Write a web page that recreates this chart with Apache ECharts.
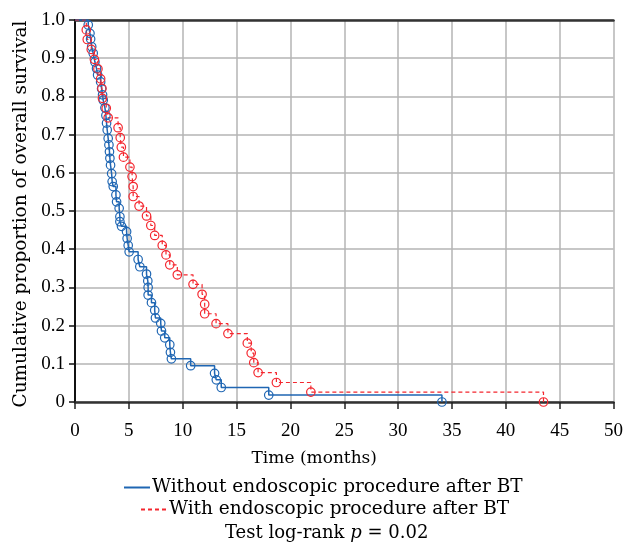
<!DOCTYPE html>
<html>
<head>
<meta charset="utf-8">
<script src="https://cdn.jsdelivr.net/npm/echarts@6/dist/echarts.min.js"></script>
<style>html,body{margin:0;padding:0;background:#fff}#c{width:626px;height:545px}</style>
</head>
<body>
<div id="c"></div>
<script>
var seriesNames = ['Without endoscopic procedure after BT', 'With endoscopic procedure after BT'];
var xTicks = [0, 5, 10, 15, 20, 25, 30, 35, 40, 45, 50];
var blueTimes = [0, 1.23, 1.39, 1.45, 1.55, 1.69, 1.85, 2.0, 2.1, 2.38, 2.47, 2.56, 2.62, 2.78, 2.87, 2.93, 2.99, 3.08, 3.15, 3.2, 3.24, 3.3, 3.4, 3.45, 3.55, 3.8, 3.86, 4.1, 4.17, 4.17, 4.32, 4.79, 4.84, 4.94, 5.03, 5.86, 6.02, 6.64, 6.76, 6.79, 6.79, 7.1, 7.4, 7.47, 7.96, 8.03, 8.33, 8.8, 8.86, 8.95, 10.74, 12.96, 13.12, 13.58, 17.99, 34.07];
var blueSurv = [1, 0.987, 0.965, 0.95, 0.93, 0.913, 0.89, 0.873, 0.856, 0.838, 0.82, 0.804, 0.79, 0.77, 0.75, 0.73, 0.712, 0.69, 0.673, 0.655, 0.638, 0.62, 0.598, 0.577, 0.564, 0.542, 0.524, 0.507, 0.485, 0.472, 0.46, 0.446, 0.428, 0.41, 0.393, 0.373, 0.354, 0.335, 0.317, 0.30, 0.28, 0.26, 0.24, 0.22, 0.206, 0.186, 0.168, 0.15, 0.13, 0.113, 0.095, 0.075, 0.058, 0.038, 0.018, 0];
var redTimes = [0, 1.05, 1.14, 1.51, 1.8, 2.13, 2.38, 2.5, 2.55, 2.9, 3.08, 4.0, 4.2, 4.3, 4.5, 5.1, 5.3, 5.4, 5.4, 5.95, 6.64, 7.04, 7.4, 8.1, 8.45, 8.8, 9.5, 10.96, 11.8, 12.04, 12.04, 13.1, 14.2, 16.0, 16.36, 16.6, 17.0, 18.7, 21.9, 43.5];
var redSurv = [1, 0.974, 0.949, 0.923, 0.897, 0.872, 0.846, 0.821, 0.795, 0.769, 0.744, 0.718, 0.692, 0.667, 0.641, 0.615, 0.59, 0.564, 0.538, 0.513, 0.487, 0.462, 0.436, 0.41, 0.385, 0.359, 0.333, 0.308, 0.282, 0.256, 0.231, 0.205, 0.179, 0.154, 0.128, 0.103, 0.077, 0.051, 0.026, 0];

function build(ts, ss) {
  return ts.map(function (t, i) {
    var d = { value: [t, ss[i]] };
    if (i === 0) d.symbol = 'none';
    return d;
  });
}
var FONT = 'Liberation Serif';
var TFONT = 'DejaVu Serif';
var TSIZE = 18.5;
var BLUE = '#1f66b3', RED = '#f4262e';
var chart = echarts.init(document.getElementById('c'), null, { renderer: 'canvas' });
chart.setOption({
  animation: false,
  backgroundColor: '#fff',
  grid: { left: 75, right: 11, top: 20, bottom: 143, containLabel: false },
  xAxis: [{
    type: 'value', min: 0, max: 50, interval: 5,
    name: 'Time (months)', nameLocation: 'middle', nameGap: 48,
    nameTextStyle: { fontFamily: TFONT, fontSize: 17, color: '#000', padding: [0, 60, 0, 0] },
    axisLine: { lineStyle: { color: '#333', width: 2.5 } },
    axisTick: { show: true, length: 7, lineStyle: { color: '#222', width: 1.5 } },
    axisLabel: { fontFamily: FONT, fontSize: 19, color: '#000', margin: 20 },
    splitLine: { show: true, lineStyle: { color: '#b5b5b5', width: 1.5 } }
  }, {
    type: 'value', min: 0, max: 50, position: 'top',
    axisLine: { show: true, lineStyle: { color: '#333', width: 2.5 } },
    axisTick: { show: false }, axisLabel: { show: false }, splitLine: { show: false }
  }],
  yAxis: {
    type: 'value', min: 0, max: 1, interval: 0.1,
    name: 'Cumulative proportion of overall survival', nameLocation: 'middle', nameGap: 44,
    nameTextStyle: { fontFamily: TFONT, fontSize: TSIZE, color: '#000', padding: [0, 6, 0, 0] },
    axisLine: { show: true, lineStyle: { color: '#111', width: 2 } },
    axisTick: { show: true, length: 6, lineStyle: { color: '#111', width: 1.5 } },
    axisLabel: { fontFamily: FONT, fontSize: 19, color: '#000', margin: 10,
      formatter: function (v) { return v === 0 ? '0' : v.toFixed(1); } },
    splitLine: { show: true, lineStyle: { color: '#b5b5b5', width: 1.5 } }
  },
  legend: [{
    data: [seriesNames[0]], top: 473, left: 118, itemWidth: 26,
    itemStyle: { opacity: 0 },
    textStyle: { fontFamily: TFONT, fontSize: TSIZE, color: '#000', padding: [0, 0, 0, -3] }
  }, {
    data: [seriesNames[1]], top: 495, left: 135, itemWidth: 26,
    itemStyle: { opacity: 0 },
    textStyle: { fontFamily: TFONT, fontSize: TSIZE, color: '#000', padding: [0, 0, 0, -3] }
  }],
  title: {
    text: '{a|Test log-rank }{b|p}{a| = 0.02}', left: 220, top: 519,
    textStyle: { fontWeight: 'normal', rich: {
      a: { fontFamily: TFONT, fontSize: 18, color: '#000', fontWeight: 'normal' },
      b: { fontFamily: TFONT, fontSize: 18, color: '#000', fontStyle: 'italic', fontWeight: 'normal' }
    } }
  },
  series: [{
    name: seriesNames[0], type: 'line', step: 'end',
    data: build(blueTimes, blueSurv),
    symbol: 'circle', symbolSize: 8.5,
    lineStyle: { color: BLUE, width: 1.5 },
    itemStyle: { color: 'rgba(0,0,0,0)', borderColor: BLUE, borderWidth: 1.2 }
  }, {
    name: seriesNames[1], type: 'line', step: 'end',
    data: build(redTimes, redSurv),
    symbol: 'circle', symbolSize: 8.5,
    lineStyle: { color: RED, width: 1.2, type: [4, 3] },
    itemStyle: { color: 'rgba(0,0,0,0)', borderColor: RED, borderWidth: 1.2 }
  }]
});
</script>
</body>
</html>
